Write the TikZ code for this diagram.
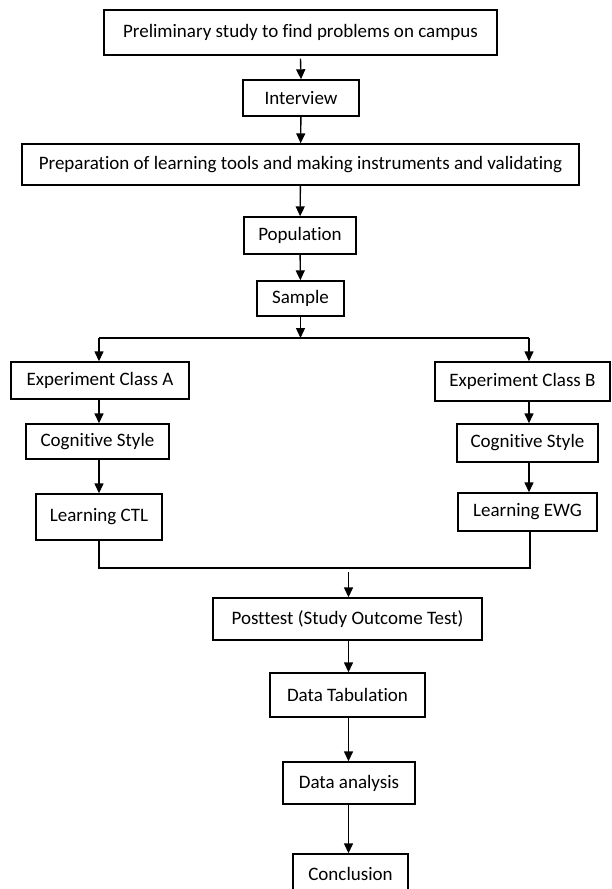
\documentclass[tikz,border=0pt]{standalone}
\usepackage{fontspec}
\setmainfont{Carlito}[Ligatures=NoCommon]
\usepackage{tikz}
\usetikzlibrary{arrows.meta}

\begin{document}
\begin{tikzpicture}[x=1pt, y=-1pt,
    every node/.style = {shape=rectangle, draw, line width=1.4pt, inner sep=0pt, align=center,
        font=\fontsize{19}{22}\selectfont},
    arr/.style = {-{Triangle[length=10pt, width=9pt]}, line width=1.4pt},
    link/.style = {line width=1.4pt}]
    \useasboundingbox (0,0) rectangle (611,889);
    % main column
    \node[minimum width=393pt, minimum height=45pt] (prelim) at (300.5,32.5) {Preliminary study to find problems on campus};
    \node[minimum width=116pt, minimum height=36pt] (interview) at (301,98) {Interview};
    \node[minimum width=557pt, minimum height=41pt] (prep) at (300.5,164.5) {Preparation of learning tools and making instruments and validating};
    \node[minimum width=112pt, minimum height=37pt] (population) at (300,235.5) {Population};
    \node[minimum width=87pt, minimum height=35pt] (sample) at (300.5,298.5) {Sample};
    % class A
    \node[minimum width=178pt, minimum height=37pt] (expA) at (100,380.5) {Experiment Class A};
    \node[minimum width=143pt, minimum height=35pt] (cogA) at (97.5,441.5) {Cognitive Style};
    \node[minimum width=126pt, minimum height=46pt] (ctl) at (99,517) {Learning CTL};
    % class B
    \node[minimum width=175pt, minimum height=39pt] (expB) at (522.5,381.5) {Experiment Class B};
    \node[minimum width=141pt, minimum height=38pt] (cogB) at (527.5,443) {Cognitive Style};
    \node[minimum width=139pt, minimum height=38pt] (ewg) at (527.5,512) {Learning EWG};
    % after the classes
    \node[minimum width=269pt, minimum height=42pt] (posttest) at (347.5,619) {Posttest (Study Outcome Test)};
    \node[minimum width=155pt, minimum height=44pt] (datatab) at (347.5,695) {Data Tabulation};
    \node[minimum width=132pt, minimum height=42pt] (analysis) at (349,783) {Data analysis};
    \node[minimum width=115pt, minimum height=40pt] (conclusion) at (350.5,874) {Conclusion};

    \coordinate (split) at (300.5,338);
    \coordinate (splitL) at (99,338);
    \coordinate (splitR) at (529,338);
    \coordinate (mergeL) at (99,568);
    \coordinate (mergeR) at (530,568);
    \coordinate (mergeC) at (348.5,572);

    \draw[arr] (prelim.south) ++(0,3) -- (interview.north);
    \draw[arr] (interview) -- (prep);
    \draw[arr] (prep) -- (population);
    \draw[arr] (population) -- (sample);
    \draw[arr] (sample) -- (split);
    \draw[link] (splitL) -- (splitR);
    \draw[arr] (splitL) -- (splitL |- expA.north);
    \draw[arr] (splitR) -- (splitR |- expB.north);
    \draw[arr] (expA.south -| splitL) -- (splitL |- cogA.north);
    \draw[arr] (cogA.south -| ctl) -- (ctl);
    \draw[arr] (expB.south -| splitR) -- (splitR |- cogB.north);
    \draw[arr] (cogB.south -| splitR) -- (splitR |- ewg.north);
    \draw[link] (ctl.south -| mergeL) -- (mergeL) -- (mergeR) -- (mergeR |- ewg.south);
    \draw[arr] (mergeC) -- (mergeC |- posttest.north);
    \draw[arr] (posttest.south -| mergeC) -- (mergeC |- datatab.north);
    \draw[arr] (datatab.south -| mergeC) -- (mergeC |- analysis.north);
    \draw[arr] (analysis.south -| mergeC) -- (mergeC |- conclusion.north);
\end{tikzpicture}
\end{document}
